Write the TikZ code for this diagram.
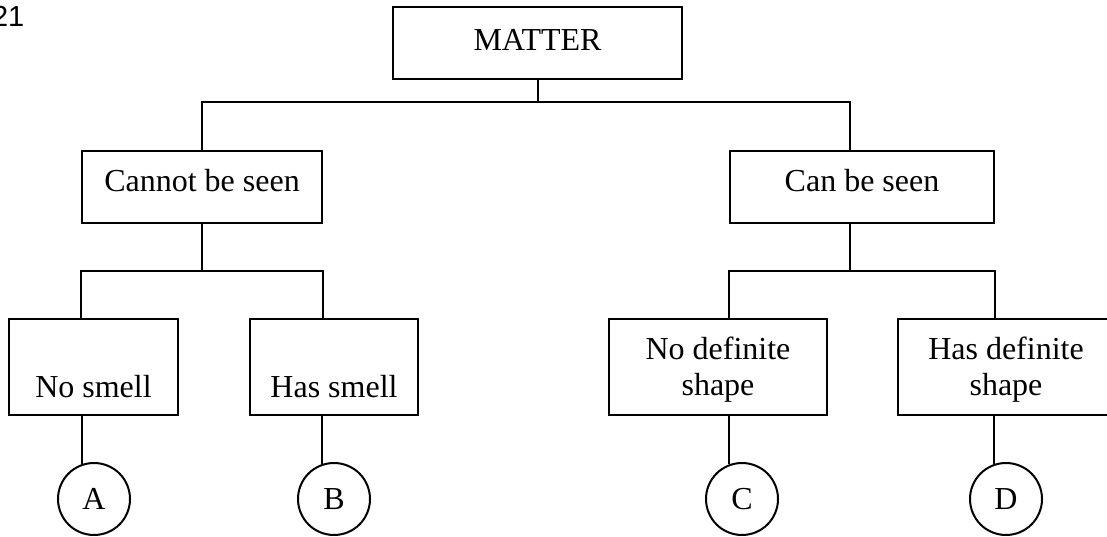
\documentclass[tikz,border=0pt]{standalone}
\usepackage{fontspec}
\setmainfont{Liberation Serif}
\newfontfamily\numfont{Liberation Sans}
\newcommand{\lblfont}{\fontsize{32}{36}\selectfont}
\begin{document}
\begin{tikzpicture}[x=1pt,y=-1pt, line width=2pt,
  box/.style={draw, rectangle, inner sep=0pt, font=\lblfont, align=center},
  topbox/.style={box, minimum height=72, text height=20pt, text depth=10pt},
  lowbox/.style={box, minimum height=96},
  circ/.style={draw, circle, minimum size=72, inner sep=0pt, font=\lblfont}]
\useasboundingbox (0,0) rectangle (1107,537);
\begin{scope}
\clip (0,0) rectangle (1107,537);
\node[anchor=base west, inner sep=0pt, font=\numfont\fontsize{29}{32}\selectfont] (num) at (-9,26.5) {21};

\node[box, minimum width=289, minimum height=72, text height=22pt, text depth=7pt] (matter) at (537.5,43) {MATTER};
\node[topbox, minimum width=240] (cbs) at (202,187) {Cannot be seen};
\node[topbox, minimum width=264] (cs) at (862,187) {Can be seen};

\node[lowbox, minimum width=169] (ns) at (93.5,367) {\rule{0pt}{35pt}\\\strut No smell};
\node[lowbox, minimum width=168] (hs) at (334,367) {\rule{0pt}{35pt}\\\strut Has smell};
\node[lowbox, minimum width=218] (nds) at (718,367) {\rule{0pt}{31pt}No definite\\\strut shape};
\node[lowbox, minimum width=216] (hds) at (1006,367) {\rule{0pt}{31pt}Has definite\\\strut shape};

\node[circ] (a) at (94,499) {A};
\node[circ] (b) at (334,499) {B};
\node[circ] (c) at (742,499) {C};
\node[circ] (d) at (1006,499) {D};

\coordinate (bar1) at (0,102.5);
\coordinate (bar2) at (0,271);
\coordinate (csx) at (850,0);

% top level
\draw (matter.south) -- (matter.south |- bar1);
\draw (cbs.north) -- (cbs.north |- bar1) -- (csx |- bar1) -- (csx |- cs.north);

% left branch
\draw (cbs.south) -- (cbs.south |- bar2);
\draw (cbs.west |- ns.north) -- (cbs.west |- bar2) -- (cbs.east |- bar2) -- (cbs.east |- hs.north);

% right branch
\draw (csx |- cs.south) -- (csx |- bar2);
\draw (cs.west |- nds.north) -- (cs.west |- bar2) -- (cs.east |- bar2) -- (cs.east |- hds.north);

% stems to circles
\draw (ns.south -| a.109.5) -- (a.109.5);
\draw (hs.south -| b.109) -- (b.109);
\draw (nds.south -| c.111.5) -- (c.111.5);
\draw (hds.south -| d.109.5) -- (d.109.5);
\end{scope}
\end{tikzpicture}
\end{document}
